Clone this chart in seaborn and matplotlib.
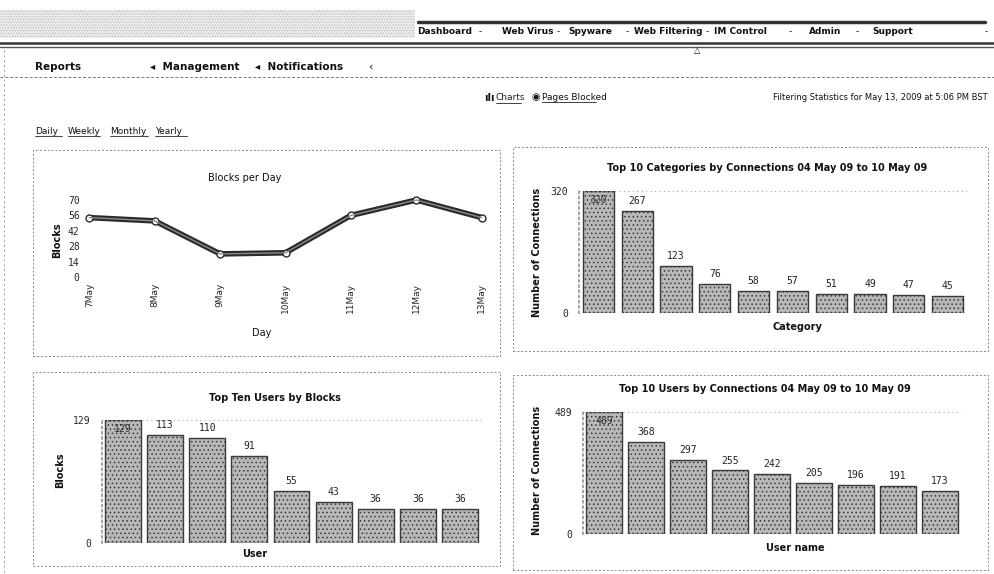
import matplotlib
matplotlib.use("Agg")
import matplotlib.pyplot as plt
import seaborn as sns
from matplotlib.lines import Line2D
from matplotlib.patches import Rectangle

sns.set_theme(style="white")
plt.rcParams["font.family"] = ["DejaVu Sans"]
plt.rcParams["hatch.linewidth"] = 0.6

# ==========================================
# ДАННЫЕ
# ==========================================

days = ["7May", "8May", "9May", "10May", "11May", "12May", "13May"]
blocks_per_day = [54, 51, 21, 22, 56, 70, 54]
day_ticks = [0, 14, 28, 42, 56, 70]

category_rank = [str(i) for i in range(1, 11)]
category_connections = [320, 267, 123, 76, 58, 57, 51, 49, 47, 45]

user_rank = [str(i) for i in range(1, 10)]
user_blocks = [129, 113, 110, 91, 55, 43, 36, 36, 36]

username_rank = [str(i) for i in range(1, 10)]
user_connections = [489, 368, 297, 255, 242, 205, 196, 191, 173]

nav_tabs = ["Dashboard", "Web Virus", "Spyware", "Web Filtering",
            "IM Control", "Admin", "Support"]
nav_x = [445, 528, 590, 668, 740, 825, 893]

# ==========================================
# ВСПОМОГАТЕЛЬНОЕ
# ==========================================

W, H = 994, 574

fig = plt.figure(figsize=(W / 100, H / 100), dpi=100)
fig.patch.set_facecolor("white")


def box(x0, y0, x1, y1):
    return [x0 / W, 1 - y1 / H, (x1 - x0) / W, (y1 - y0) / H]


def ftext(x, y, s, **kw):
    kw.setdefault("fontsize", 7)
    kw.setdefault("color", "#111111")
    kw.setdefault("va", "center")
    return fig.text(x / W, 1 - y / H, s, **kw)


def fline(x0, y0, x1, y1, **kw):
    kw.setdefault("color", "#222222")
    kw.setdefault("lw", 1)
    fig.add_artist(Line2D([x0 / W, x1 / W], [1 - y0 / H, 1 - y1 / H],
                          transform=fig.transFigure, **kw))


def frame(x0, y0, x1, y1):
    fig.add_artist(Rectangle((x0 / W, 1 - y1 / H), (x1 - x0) / W,
                             (y1 - y0) / H, transform=fig.transFigure,
                             fill=False, ls=(0, (2, 2)), lw=0.7,
                             ec="#888888"))


def style_bar_axes(ax, top):
    ax.set_ylim(0, top)
    ax.set_yticks([0, top])
    ax.set_xticks([])
    ax.set_xlabel("")
    ax.set_ylabel("")
    ax.tick_params(axis="y", labelsize=7, pad=8, length=0)
    for t in ax.get_yticklabels():
        t.set_family("DejaVu Sans Mono")
    for s in ["top", "right", "bottom"]:
        ax.spines[s].set_visible(False)
    ax.spines["left"].set_linestyle((0, (1, 2)))
    ax.spines["left"].set_color("#999999")
    ax.axhline(top, color="#aaaaaa", lw=0.8, ls=(0, (1, 3)), clip_on=False)
    ax.set_facecolor("none")


def bar_labels(ax, values, top):
    for i, v in enumerate(values):
        if v >= top:
            ax.text(i, v - top * 0.03, str(v), ha="center", va="top",
                    fontsize=7, family="DejaVu Sans Mono", color="#333333")
        else:
            ax.text(i, v + top * 0.04, str(v), ha="center", va="bottom",
                    fontsize=7, family="DejaVu Sans Mono", color="#222222")


bar_kw = dict(color="#b8b8b8", edgecolor="#3a3a3a", linewidth=1.0,
              hatch="....", saturation=1)

# ==========================================
# ШАПКА
# ==========================================

fig.add_artist(Rectangle((0, 1 - 38 / H), 415 / W, 28 / H,
                         transform=fig.transFigure, fc="#ececec",
                         ec="#bbbbbb", hatch="......", lw=0))
fline(418, 22, 985, 22, lw=2.5, color="#333333")
for x, name in zip(nav_x, nav_tabs):
    ftext(x, 31, name, ha="center", fontsize=6.5, fontweight="bold")
for x in [480, 558, 627, 707, 790, 857, 986]:
    ftext(x, 32, "-", ha="center", fontsize=6.5)
fline(0, 43, 994, 43, lw=1.8, color="#333333")
fline(0, 47, 994, 47, lw=1.0, color="#555555")
ftext(697, 50, "\u25b3", ha="center", fontsize=6)

ftext(35, 67, "Reports", fontsize=7.5, fontweight="bold")
ftext(150, 67, "\u25c2  Management", fontsize=7.5, fontweight="bold")
ftext(255, 67, "\u25c2  Notifications", fontsize=7.5, fontweight="bold")
ftext(368, 67, "\u2039", fontsize=8)
fline(0, 77, 994, 77, lw=0.7, ls=(0, (3, 2)), color="#777777")
fline(4, 50, 4, 574, lw=0.7, ls=(0, (2, 3)), color="#999999")

ftext(988, 97, "Filtering Statistics for May 13, 2009 at 5:06 PM BST",
      ha="right", fontsize=6)
ftext(484, 98, "\u0131l\u0131", fontsize=7, fontweight="bold")
ftext(496, 98, "Charts", fontsize=6.5, color="#222222")
fline(496, 103, 521, 103, lw=0.6)
ftext(531, 97, "\u25c9", fontsize=7)
ftext(542, 97, "Pages Blocked", fontsize=6.5)
fline(542, 102, 596, 102, lw=0.6)

for x, s in zip([35, 68, 110, 155], ["Daily", "Weekly", "Monthly", "Yearly"]):
    ftext(x, 131, s, fontsize=6.5)
    fline(x, 136, x + len(s) * 5.4, 136, lw=0.6)

# ==========================================
# РАМКИ ПАНЕЛЕЙ
# ==========================================

frame(33, 150, 500, 356)
frame(513, 147, 988, 351)
frame(33, 372, 500, 566)
frame(513, 375, 988, 570)

# ==========================================
# ГРАФИК 1: BLOCKS PER DAY
# ==========================================

ax1 = fig.add_axes(box(88, 200, 483, 277))
sns.lineplot(x=days, y=blocks_per_day, ax=ax1, color="#2a2a2a", lw=4,
             marker="o", markersize=5, markerfacecolor="white",
             markeredgecolor="#2a2a2a", markeredgewidth=1, sort=False,
             clip_on=False)
sns.lineplot(x=days, y=blocks_per_day, ax=ax1, color="#8a8a8a", lw=1.0,
             sort=False, clip_on=False)
ax1.set_xlim(-0.02, len(days) - 0.98)
ax1.set_ylim(0, 70)
ax1.set_yticks(day_ticks)
ax1.tick_params(axis="y", labelsize=7, pad=6, length=0)
ax1.tick_params(axis="x", labelsize=6.5, rotation=90, length=0, pad=4)
for t in ax1.get_yticklabels():
    t.set_family("DejaVu Sans Mono")
for s in ax1.spines.values():
    s.set_visible(False)
ax1.set_xlabel("")
ax1.set_ylabel("")
ax1.set_facecolor("none")
ftext(245, 178, "Blocks per Day", ha="center", fontsize=7)
ftext(57, 240, "Blocks", ha="center", rotation=90, fontsize=7,
      fontweight="bold")
ftext(262, 333, "Day", ha="center", fontsize=7)

# ==========================================
# ГРАФИК 2: TOP 10 CATEGORIES
# ==========================================

ax2 = fig.add_axes(box(579, 191, 967, 313))
sns.barplot(x=category_rank, y=category_connections, ax=ax2, width=0.8,
            **bar_kw)
style_bar_axes(ax2, max(category_connections))
bar_labels(ax2, category_connections, max(category_connections))
ftext(767, 168, "Top 10 Categories by Connections 04 May 09 to 10 May 09",
      ha="center", fontsize=7, fontweight="bold")
ftext(537, 252, "Number of Connections", ha="center", rotation=90,
      fontsize=7, fontweight="bold")
ftext(797, 327, "Category", ha="center", fontsize=7, fontweight="bold")

# ==========================================
# ГРАФИК 3: TOP TEN USERS BY BLOCKS
# ==========================================

ax3 = fig.add_axes(box(102, 420, 481, 543))
sns.barplot(x=user_rank, y=user_blocks, ax=ax3, width=0.85, **bar_kw)
style_bar_axes(ax3, max(user_blocks))
bar_labels(ax3, user_blocks, max(user_blocks))
ftext(275, 398, "Top Ten Users by Blocks", ha="center", fontsize=7,
      fontweight="bold")
ftext(60, 470, "Blocks", ha="center", rotation=90, fontsize=7,
      fontweight="bold")
ftext(255, 554, "User", ha="center", fontsize=7, fontweight="bold")

# ==========================================
# ГРАФИК 4: TOP 10 USERS BY CONNECTIONS
# ==========================================

ax4 = fig.add_axes(box(583, 412, 961, 534))
sns.barplot(x=username_rank, y=user_connections, ax=ax4, width=0.85,
            **bar_kw)
style_bar_axes(ax4, max(user_connections))
bar_labels(ax4, user_connections, max(user_connections))
ftext(765, 389, "Top 10 Users by Connections 04 May 09 to 10 May 09",
      ha="center", fontsize=7, fontweight="bold")
ftext(537, 470, "Number of Connections", ha="center", rotation=90,
      fontsize=7, fontweight="bold")
ftext(795, 548, "User name", ha="center", fontsize=7, fontweight="bold")

fig.savefig("out.png", dpi=100)
